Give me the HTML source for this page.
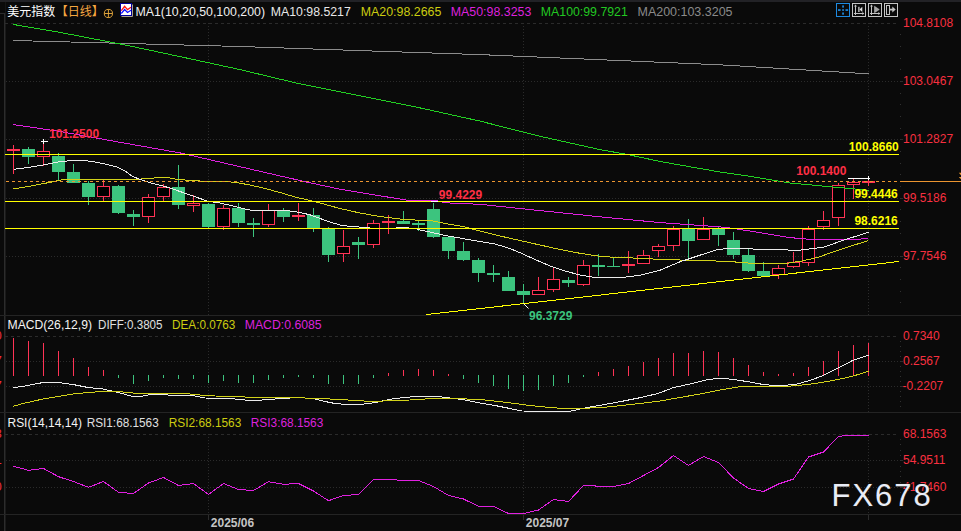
<!DOCTYPE html>
<html><head><meta charset="utf-8"><title>chart</title><style>html,body{margin:0;padding:0;background:#0a0a0a;overflow:hidden}body{width:961px;height:531px}</style></head><body>
<svg width="961" height="531" viewBox="0 0 961 531" style="display:block;font-family:'Liberation Sans',sans-serif">
<rect x="0" y="0" width="961" height="531" fill="#0a0a0a"/>
<rect x="0" y="0" width="961" height="2" fill="#222226"/>
<g shape-rendering="crispEdges">
<rect x="4" y="13" width="1" height="518" fill="#2c2c2c"/>
<rect x="5" y="13" width="1" height="518" fill="#1a1a1a"/>
<rect x="5" y="2" width="1" height="11" fill="#151515"/>
<rect x="0" y="13" width="5" height="1" fill="#2c2c2c"/>
<rect x="0" y="315" width="961" height="1" fill="#242424"/>
<rect x="0" y="412" width="961" height="1" fill="#242424"/>
<rect x="0" y="514" width="961" height="1" fill="#242424"/>
<line x1="5" x2="897" y1="23.5" y2="23.5" stroke="#2b2b2b" stroke-width="1" stroke-dasharray="3 3"/>
<line x1="5" x2="897" y1="336.5" y2="336.5" stroke="#2b2b2b" stroke-width="1" stroke-dasharray="3 3"/>
<line x1="5" x2="897" y1="434.5" y2="434.5" stroke="#2b2b2b" stroke-width="1" stroke-dasharray="3 3"/>
<line x1="6" x2="903" y1="81.5" y2="81.5" stroke="#2b2b2b" stroke-width="1" stroke-dasharray="1 2"/>
<line x1="6" x2="903" y1="139.5" y2="139.5" stroke="#2b2b2b" stroke-width="1" stroke-dasharray="1 2"/>
<line x1="6" x2="903" y1="198.5" y2="198.5" stroke="#2b2b2b" stroke-width="1" stroke-dasharray="1 2"/>
<line x1="6" x2="903" y1="256.5" y2="256.5" stroke="#2b2b2b" stroke-width="1" stroke-dasharray="1 2"/>
<line x1="6" x2="903" y1="361.5" y2="361.5" stroke="#2b2b2b" stroke-width="1" stroke-dasharray="1 2"/>
<line x1="6" x2="903" y1="386.5" y2="386.5" stroke="#2b2b2b" stroke-width="1" stroke-dasharray="1 2"/>
<line x1="6" x2="903" y1="460.5" y2="460.5" stroke="#2b2b2b" stroke-width="1" stroke-dasharray="1 2"/>
<line x1="6" x2="903" y1="487.5" y2="487.5" stroke="#2b2b2b" stroke-width="1" stroke-dasharray="1 2"/>
<rect x="900" y="81" width="3" height="1" fill="#2b2b2b"/>
<rect x="900" y="139" width="3" height="1" fill="#2b2b2b"/>
<rect x="900" y="198" width="3" height="1" fill="#2b2b2b"/>
<rect x="900" y="256" width="3" height="1" fill="#2b2b2b"/>
<rect x="900" y="361" width="3" height="1" fill="#2b2b2b"/>
<rect x="900" y="386" width="3" height="1" fill="#2b2b2b"/>
<rect x="900" y="460" width="3" height="1" fill="#2b2b2b"/>
<rect x="900" y="487" width="3" height="1" fill="#2b2b2b"/>
<line x1="208.5" x2="208.5" y1="23" y2="315" stroke="#2b2b2b" stroke-width="1" stroke-dasharray="1 2"/>
<line x1="208.5" x2="208.5" y1="336" y2="412" stroke="#2b2b2b" stroke-width="1" stroke-dasharray="1 2"/>
<line x1="208.5" x2="208.5" y1="434" y2="514" stroke="#2b2b2b" stroke-width="1" stroke-dasharray="1 2"/>
<rect x="208" y="515" width="1" height="5" fill="#2c2c2c"/>
<line x1="523.5" x2="523.5" y1="23" y2="315" stroke="#2b2b2b" stroke-width="1" stroke-dasharray="1 2"/>
<line x1="523.5" x2="523.5" y1="336" y2="412" stroke="#2b2b2b" stroke-width="1" stroke-dasharray="1 2"/>
<line x1="523.5" x2="523.5" y1="434" y2="514" stroke="#2b2b2b" stroke-width="1" stroke-dasharray="1 2"/>
<rect x="523" y="515" width="1" height="5" fill="#2c2c2c"/>
<line x1="868.5" x2="868.5" y1="23" y2="315" stroke="#2b2b2b" stroke-width="1" stroke-dasharray="1 2"/>
<line x1="868.5" x2="868.5" y1="336" y2="412" stroke="#2b2b2b" stroke-width="1" stroke-dasharray="1 2"/>
<line x1="868.5" x2="868.5" y1="434" y2="514" stroke="#2b2b2b" stroke-width="1" stroke-dasharray="1 2"/>
<rect x="868" y="515" width="1" height="5" fill="#2c2c2c"/>
<rect x="900" y="34" width="1" height="1" fill="#303030"/>
<rect x="900" y="46" width="1" height="1" fill="#303030"/>
<rect x="900" y="58" width="1" height="1" fill="#303030"/>
<rect x="900" y="69" width="1" height="1" fill="#303030"/>
<rect x="900" y="81" width="1" height="1" fill="#303030"/>
<rect x="900" y="93" width="1" height="1" fill="#303030"/>
<rect x="900" y="104" width="1" height="1" fill="#303030"/>
<rect x="900" y="116" width="1" height="1" fill="#303030"/>
<rect x="900" y="128" width="1" height="1" fill="#303030"/>
<rect x="900" y="139" width="1" height="1" fill="#303030"/>
<rect x="900" y="151" width="1" height="1" fill="#303030"/>
<rect x="900" y="163" width="1" height="1" fill="#303030"/>
<rect x="900" y="174" width="1" height="1" fill="#303030"/>
<rect x="900" y="186" width="1" height="1" fill="#303030"/>
<rect x="900" y="198" width="1" height="1" fill="#303030"/>
<rect x="900" y="209" width="1" height="1" fill="#303030"/>
<rect x="900" y="221" width="1" height="1" fill="#303030"/>
<rect x="900" y="233" width="1" height="1" fill="#303030"/>
<rect x="900" y="244" width="1" height="1" fill="#303030"/>
<rect x="900" y="256" width="1" height="1" fill="#303030"/>
<rect x="900" y="267" width="1" height="1" fill="#303030"/>
<rect x="900" y="279" width="1" height="1" fill="#303030"/>
<rect x="900" y="291" width="1" height="1" fill="#303030"/>
<rect x="900" y="302" width="1" height="1" fill="#303030"/>
<rect x="900" y="341" width="1" height="1" fill="#303030"/>
<rect x="900" y="346" width="1" height="1" fill="#303030"/>
<rect x="900" y="351" width="1" height="1" fill="#303030"/>
<rect x="900" y="356" width="1" height="1" fill="#303030"/>
<rect x="900" y="361" width="1" height="1" fill="#303030"/>
<rect x="900" y="366" width="1" height="1" fill="#303030"/>
<rect x="900" y="371" width="1" height="1" fill="#303030"/>
<rect x="900" y="376" width="1" height="1" fill="#303030"/>
<rect x="900" y="381" width="1" height="1" fill="#303030"/>
<rect x="900" y="386" width="1" height="1" fill="#303030"/>
<rect x="900" y="391" width="1" height="1" fill="#303030"/>
<rect x="900" y="396" width="1" height="1" fill="#303030"/>
<rect x="900" y="401" width="1" height="1" fill="#303030"/>
<rect x="900" y="406" width="1" height="1" fill="#303030"/>
<rect x="900" y="439" width="1" height="1" fill="#303030"/>
<rect x="900" y="444" width="1" height="1" fill="#303030"/>
<rect x="900" y="450" width="1" height="1" fill="#303030"/>
<rect x="900" y="455" width="1" height="1" fill="#303030"/>
<rect x="900" y="460" width="1" height="1" fill="#303030"/>
<rect x="900" y="466" width="1" height="1" fill="#303030"/>
<rect x="900" y="471" width="1" height="1" fill="#303030"/>
<rect x="900" y="476" width="1" height="1" fill="#303030"/>
<rect x="900" y="482" width="1" height="1" fill="#303030"/>
<rect x="900" y="487" width="1" height="1" fill="#303030"/>
<rect x="900" y="492" width="1" height="1" fill="#303030"/>
<rect x="900" y="498" width="1" height="1" fill="#303030"/>
<rect x="900" y="503" width="1" height="1" fill="#303030"/>
<rect x="900" y="508" width="1" height="1" fill="#303030"/>
</g>
<g shape-rendering="crispEdges">
<rect x="13" y="145" width="1" height="29" fill="#ff3355"/>
<rect x="7" y="149" width="13" height="2" fill="#ff3355"/>
<rect x="28" y="147" width="1" height="17" fill="#3cc47e"/>
<rect x="22" y="149" width="13" height="8" fill="#3cc47e"/>
<rect x="43" y="143" width="1" height="23" fill="#ff3355"/>
<rect x="37.5" y="151.5" width="12" height="5" fill="#000" stroke="#ff3355" stroke-width="1"/>
<rect x="58" y="153" width="1" height="27" fill="#3cc47e"/>
<rect x="52" y="156" width="13" height="16" fill="#3cc47e"/>
<rect x="73" y="164" width="1" height="19" fill="#3cc47e"/>
<rect x="67" y="172" width="13" height="11" fill="#3cc47e"/>
<rect x="88" y="181" width="1" height="24" fill="#3cc47e"/>
<rect x="82" y="183" width="13" height="14" fill="#3cc47e"/>
<rect x="103" y="179" width="1" height="22" fill="#ff3355"/>
<rect x="97.5" y="186.5" width="12" height="10" fill="#000" stroke="#ff3355" stroke-width="1"/>
<rect x="118" y="185" width="1" height="29" fill="#3cc47e"/>
<rect x="112" y="186" width="13" height="27" fill="#3cc47e"/>
<rect x="133" y="210" width="1" height="16" fill="#3cc47e"/>
<rect x="127" y="214" width="13" height="3" fill="#3cc47e"/>
<rect x="148" y="194" width="1" height="29" fill="#ff3355"/>
<rect x="142.5" y="197.5" width="12" height="19" fill="#000" stroke="#ff3355" stroke-width="1"/>
<rect x="163" y="184" width="1" height="17" fill="#ff3355"/>
<rect x="157.5" y="187.5" width="12" height="9" fill="#000" stroke="#ff3355" stroke-width="1"/>
<rect x="178" y="165" width="1" height="44" fill="#3cc47e"/>
<rect x="172" y="187" width="13" height="18" fill="#3cc47e"/>
<rect x="193" y="195" width="1" height="17" fill="#ff3355"/>
<rect x="187.5" y="203.5" width="12" height="2" fill="#000" stroke="#ff3355" stroke-width="1"/>
<rect x="208" y="203" width="1" height="25" fill="#3cc47e"/>
<rect x="202" y="204" width="13" height="23" fill="#3cc47e"/>
<rect x="223" y="205" width="1" height="25" fill="#ff3355"/>
<rect x="217.5" y="208.5" width="12" height="18" fill="#000" stroke="#ff3355" stroke-width="1"/>
<rect x="238" y="203" width="1" height="24" fill="#3cc47e"/>
<rect x="232" y="208" width="13" height="15" fill="#3cc47e"/>
<rect x="253" y="218" width="1" height="19" fill="#3cc47e"/>
<rect x="247" y="223" width="13" height="2" fill="#3cc47e"/>
<rect x="268" y="204" width="1" height="23" fill="#ff3355"/>
<rect x="262.5" y="210.5" width="12" height="14" fill="#000" stroke="#ff3355" stroke-width="1"/>
<rect x="283" y="208" width="1" height="14" fill="#3cc47e"/>
<rect x="277" y="211" width="13" height="6" fill="#3cc47e"/>
<rect x="298" y="203" width="1" height="18" fill="#ff3355"/>
<rect x="292" y="215" width="13" height="2" fill="#ff3355"/>
<rect x="313" y="208" width="1" height="24" fill="#3cc47e"/>
<rect x="307" y="215" width="13" height="13" fill="#3cc47e"/>
<rect x="328" y="227" width="1" height="35" fill="#3cc47e"/>
<rect x="322" y="229" width="13" height="26" fill="#3cc47e"/>
<rect x="343" y="230" width="1" height="32" fill="#ff3355"/>
<rect x="337.5" y="246.5" width="12" height="7" fill="#000" stroke="#ff3355" stroke-width="1"/>
<rect x="358" y="237" width="1" height="22" fill="#3cc47e"/>
<rect x="352" y="242" width="13" height="3" fill="#3cc47e"/>
<rect x="373" y="220" width="1" height="28" fill="#ff3355"/>
<rect x="367.5" y="223.5" width="12" height="21" fill="#000" stroke="#ff3355" stroke-width="1"/>
<rect x="388" y="215" width="1" height="19" fill="#ff3355"/>
<rect x="382" y="221" width="13" height="2" fill="#ff3355"/>
<rect x="403" y="211" width="1" height="13" fill="#3cc47e"/>
<rect x="397" y="221" width="13" height="3" fill="#3cc47e"/>
<rect x="418" y="220" width="1" height="11" fill="#3cc47e"/>
<rect x="412" y="223" width="13" height="2" fill="#3cc47e"/>
<rect x="433" y="203" width="1" height="35" fill="#3cc47e"/>
<rect x="427" y="209" width="13" height="28" fill="#3cc47e"/>
<rect x="448" y="236" width="1" height="23" fill="#3cc47e"/>
<rect x="442" y="237" width="13" height="14" fill="#3cc47e"/>
<rect x="463" y="242" width="1" height="19" fill="#3cc47e"/>
<rect x="457" y="251" width="13" height="9" fill="#3cc47e"/>
<rect x="478" y="258" width="1" height="24" fill="#3cc47e"/>
<rect x="472" y="260" width="13" height="13" fill="#3cc47e"/>
<rect x="493" y="265" width="1" height="17" fill="#3cc47e"/>
<rect x="487" y="273" width="13" height="2" fill="#3cc47e"/>
<rect x="508" y="271" width="1" height="20" fill="#3cc47e"/>
<rect x="502" y="277" width="13" height="14" fill="#3cc47e"/>
<rect x="523" y="284" width="1" height="19" fill="#3cc47e"/>
<rect x="517" y="291" width="13" height="4" fill="#3cc47e"/>
<rect x="538" y="277" width="1" height="18" fill="#ff3355"/>
<rect x="532.5" y="290.5" width="12" height="4" fill="#000" stroke="#ff3355" stroke-width="1"/>
<rect x="553" y="268" width="1" height="24" fill="#ff3355"/>
<rect x="547.5" y="279.5" width="12" height="10" fill="#000" stroke="#ff3355" stroke-width="1"/>
<rect x="568" y="277" width="1" height="10" fill="#3cc47e"/>
<rect x="562" y="280" width="13" height="3" fill="#3cc47e"/>
<rect x="583" y="260" width="1" height="26" fill="#ff3355"/>
<rect x="577.5" y="265.5" width="12" height="19" fill="#000" stroke="#ff3355" stroke-width="1"/>
<rect x="598" y="254" width="1" height="22" fill="#3cc47e"/>
<rect x="592" y="265" width="13" height="2" fill="#3cc47e"/>
<rect x="613" y="257" width="1" height="10" fill="#3cc47e"/>
<rect x="607" y="265.5" width="13" height="1.5" fill="#3cc47e"/>
<rect x="628" y="251" width="1" height="22" fill="#ff3355"/>
<rect x="622" y="264" width="13" height="2" fill="#ff3355"/>
<rect x="643" y="250" width="1" height="14" fill="#ff3355"/>
<rect x="637.5" y="255.5" width="12" height="8" fill="#000" stroke="#ff3355" stroke-width="1"/>
<rect x="658" y="244" width="1" height="13" fill="#ff3355"/>
<rect x="652.5" y="246.5" width="12" height="4" fill="#000" stroke="#ff3355" stroke-width="1"/>
<rect x="673" y="226" width="1" height="25" fill="#ff3355"/>
<rect x="667.5" y="229.5" width="12" height="16" fill="#000" stroke="#ff3355" stroke-width="1"/>
<rect x="688" y="219" width="1" height="40" fill="#3cc47e"/>
<rect x="682" y="229" width="13" height="12" fill="#3cc47e"/>
<rect x="703" y="217" width="1" height="23" fill="#ff3355"/>
<rect x="697.5" y="229.5" width="12" height="10" fill="#000" stroke="#ff3355" stroke-width="1"/>
<rect x="718" y="226" width="1" height="20" fill="#3cc47e"/>
<rect x="712" y="229" width="13" height="6" fill="#3cc47e"/>
<rect x="733" y="232" width="1" height="27" fill="#3cc47e"/>
<rect x="727" y="240" width="13" height="15" fill="#3cc47e"/>
<rect x="748" y="249" width="1" height="23" fill="#3cc47e"/>
<rect x="742" y="255" width="13" height="16" fill="#3cc47e"/>
<rect x="763" y="262" width="1" height="14" fill="#3cc47e"/>
<rect x="757" y="271" width="13" height="5" fill="#3cc47e"/>
<rect x="778" y="265" width="1" height="14" fill="#ff3355"/>
<rect x="772.5" y="268.5" width="12" height="6" fill="#000" stroke="#ff3355" stroke-width="1"/>
<rect x="793" y="252" width="1" height="16" fill="#ff3355"/>
<rect x="787.5" y="262.5" width="12" height="4" fill="#000" stroke="#ff3355" stroke-width="1"/>
<rect x="808" y="226" width="1" height="40" fill="#ff3355"/>
<rect x="802.5" y="229.0" width="12" height="33.5" fill="#000" stroke="#ff3355" stroke-width="1"/>
<rect x="823" y="211" width="1" height="19" fill="#ff3355"/>
<rect x="817.5" y="220.5" width="12" height="6" fill="#000" stroke="#ff3355" stroke-width="1"/>
<rect x="838" y="183" width="1" height="43" fill="#ff3355"/>
<rect x="832.5" y="185.5" width="12" height="32" fill="#000" stroke="#ff3355" stroke-width="1"/>
<rect x="853" y="179" width="1" height="20" fill="#ff3355"/>
<rect x="847.5" y="182.5" width="12" height="2" fill="#000" stroke="#ff3355" stroke-width="1"/>
<rect x="868" y="176" width="1" height="10" fill="#ff3355"/>
<rect x="862" y="181" width="13" height="2" fill="#ff3355"/>
</g>
<polyline points="13,40.5 120,43.3 240,46.5 360,50.6 480,54.6 720,64.8 868.5,73.8" fill="none" stroke="#8c8c8c" stroke-width="1" shape-rendering="crispEdges" />
<polyline points="13,24.4 60,32.4 120,43.9 180,56.6 240,69.6 300,83.9 360,95.8 420,107.9 480,121.1 540,136.3 600,149.6 628,154.6 660,161.5 720,172 750,176.3 790,183 832,186.9 857,189.2 868.5,190.7" fill="none" stroke="#22d022" stroke-width="1" shape-rendering="crispEdges" />
<polyline points="13,124.5 60,131.5 120,142.3 180,152.9 195,156.3 240,166.7 310,182.8 340,189.2 410,200.7 437,200.7 441,201.8 445,202.8 480,204.3 540,210.6 600,216.8 660,222.6 720,226.9 730,228 750,231 790,237.6 816.7,240 850,239.6 868.5,238.6" fill="none" stroke="#e020e0" stroke-width="1" shape-rendering="crispEdges" />
<polyline points="13.5,189 28,186.5 43,183.7 55,181.3 63,179.5 70,179 85,179 100,179.5 118,179.5 133,179.3 150,178.7 157,177.5 167,177.5 175,179 185,180 200,181 225,181.5 235,182.3 250,185 265,188.5 280,192.5 295,197 310,200.5 320,203 340,208.5 360,213 380,216.5 400,219 420,220.3 433,221 445,223.5 460,226 465,227 480,231 500,236 520,240.5 540,245 560,249.5 580,253.3 600,256.3 610,257 633,258 667,259.7 710,260.7 733,261.8 760,264 785.8,263.5 801.7,261 816.7,257.7 843.3,248.5 868.5,240.5" fill="none" stroke="#d2d21a" stroke-width="1" shape-rendering="crispEdges" />
<polyline points="13.5,169.3 28,167.5 43,165 58,162 72,160.5 80,160.5 92,161.3 105,164 118,167.3 125,171 133,176.7 142,180 150,182.7 160,185.2 170,188 180,191.5 190,195 200,198.5 207,201 220,203 235,206.5 245,209 253,210.5 262,210.5 275,210 290,211 300,212.5 310,214.8 320,218.5 330,222 342,225.5 355,226.8 368,227.5 372,228.5 395,228.5 398,227.5 407,227.5 410,228.5 416,228.7 420,230 433,232.7 445,235.5 460,238 465,239 480,241.5 495,244 510,248.5 523,254 535,259.5 550,266 565,271 580,275 595,277.5 610,278 620,277.7 640,275.2 660,270.2 680,261.8 700,255.2 716.7,249.7 727,248.5 750,248.5 756.7,249.7 785.8,249.8 795,250.7 816.7,248 825,246.8 843.3,240.2 868.5,232.3" fill="none" stroke="#ececec" stroke-width="1" shape-rendering="crispEdges" />
<g shape-rendering="crispEdges">
<rect x="5" y="154" width="894" height="1" fill="#ffff00"/>
<rect x="5" y="201" width="894" height="1" fill="#ffff00"/>
<rect x="5" y="228" width="894" height="1" fill="#ffff00"/>
<line x1="6" x2="900" y1="181.5" y2="181.5" stroke="#ec9530" stroke-width="1" stroke-dasharray="3 3"/>
<rect x="900" y="181" width="61" height="1" fill="#ec9530"/>
</g>
<path d="M958.8,172.8 H961 V175.2z M958.8,177 H961 V179.3z" fill="#e89430"/>
<polyline points="426,314.6 899,261.5" fill="none" stroke="#ffff00" stroke-width="1" shape-rendering="crispEdges" />
<g shape-rendering="crispEdges" fill="#fff">
<rect x="41" y="141" width="7" height="1"/><rect x="43" y="139" width="1" height="5"/>
<rect x="431" y="201" width="7" height="1"/>
<rect x="848" y="178" width="22" height="1"/><rect x="868" y="176" width="1" height="4"/>
</g>
<line x1="523.5" y1="303.5" x2="528.5" y2="308.5" stroke="#fff" stroke-width="1"/>
<g shape-rendering="crispEdges">
<rect x="13" y="338" width="1" height="38" fill="#ff3355"/>
<rect x="28" y="341" width="1" height="35" fill="#ff3355"/>
<rect x="43" y="343" width="1" height="33" fill="#ff3355"/>
<rect x="58" y="351" width="1" height="25" fill="#ff3355"/>
<rect x="73" y="358" width="1" height="18" fill="#ff3355"/>
<rect x="88" y="367" width="1" height="9" fill="#ff3355"/>
<rect x="103" y="370" width="1" height="6" fill="#ff3355"/>
<rect x="118" y="375" width="1" height="3" fill="#3cc47e"/>
<rect x="133" y="375" width="1" height="9" fill="#3cc47e"/>
<rect x="148" y="375" width="1" height="6" fill="#3cc47e"/>
<rect x="163" y="375" width="1" height="3" fill="#3cc47e"/>
<rect x="178" y="375" width="1" height="4" fill="#3cc47e"/>
<rect x="193" y="375" width="1" height="4" fill="#3cc47e"/>
<rect x="208" y="375" width="1" height="8" fill="#3cc47e"/>
<rect x="223" y="375" width="1" height="6" fill="#3cc47e"/>
<rect x="238" y="375" width="1" height="8" fill="#3cc47e"/>
<rect x="253" y="375" width="1" height="8" fill="#3cc47e"/>
<rect x="268" y="375" width="1" height="5" fill="#3cc47e"/>
<rect x="283" y="375" width="1" height="3" fill="#3cc47e"/>
<rect x="298" y="375" width="1" height="2" fill="#3cc47e"/>
<rect x="313" y="375" width="1" height="3" fill="#3cc47e"/>
<rect x="328" y="375" width="1" height="9" fill="#3cc47e"/>
<rect x="343" y="375" width="1" height="9" fill="#3cc47e"/>
<rect x="358" y="375" width="1" height="9" fill="#3cc47e"/>
<rect x="373" y="375" width="1" height="3" fill="#3cc47e"/>
<rect x="388" y="373" width="1" height="3" fill="#ff3355"/>
<rect x="403" y="370" width="1" height="6" fill="#ff3355"/>
<rect x="418" y="369" width="1" height="7" fill="#ff3355"/>
<rect x="433" y="370" width="1" height="6" fill="#ff3355"/>
<rect x="448" y="374" width="1" height="2" fill="#ff3355"/>
<rect x="463" y="375" width="1" height="4" fill="#3cc47e"/>
<rect x="478" y="375" width="1" height="8" fill="#3cc47e"/>
<rect x="493" y="375" width="1" height="11" fill="#3cc47e"/>
<rect x="508" y="375" width="1" height="14" fill="#3cc47e"/>
<rect x="523" y="375" width="1" height="16" fill="#3cc47e"/>
<rect x="538" y="375" width="1" height="15" fill="#3cc47e"/>
<rect x="553" y="375" width="1" height="11" fill="#3cc47e"/>
<rect x="568" y="375" width="1" height="8" fill="#3cc47e"/>
<rect x="583" y="375" width="1" height="2" fill="#3cc47e"/>
<rect x="598" y="372" width="1" height="4" fill="#ff3355"/>
<rect x="613" y="369" width="1" height="7" fill="#ff3355"/>
<rect x="628" y="366" width="1" height="10" fill="#ff3355"/>
<rect x="643" y="362" width="1" height="14" fill="#ff3355"/>
<rect x="658" y="358" width="1" height="18" fill="#ff3355"/>
<rect x="673" y="353" width="1" height="23" fill="#ff3355"/>
<rect x="688" y="353" width="1" height="23" fill="#ff3355"/>
<rect x="703" y="351" width="1" height="25" fill="#ff3355"/>
<rect x="718" y="352" width="1" height="24" fill="#ff3355"/>
<rect x="733" y="358" width="1" height="18" fill="#ff3355"/>
<rect x="748" y="365" width="1" height="11" fill="#ff3355"/>
<rect x="763" y="372" width="1" height="4" fill="#ff3355"/>
<rect x="778" y="374" width="1" height="2" fill="#ff3355"/>
<rect x="793" y="373" width="1" height="3" fill="#ff3355"/>
<rect x="808" y="367" width="1" height="9" fill="#ff3355"/>
<rect x="823" y="361" width="1" height="15" fill="#ff3355"/>
<rect x="838" y="351" width="1" height="25" fill="#ff3355"/>
<rect x="853" y="345" width="1" height="31" fill="#ff3355"/>
<rect x="868" y="343" width="1" height="33" fill="#ff3355"/>
</g>
<polyline points="13.5,387.7 28,385.5 43,382.5 58,382.5 73,384.5 88,387.5 103,389 118,392.5 133,396.5 140,396.5 148,395 160,394 170,395.3 195,396 205,398 230,398.5 245,400 262,400 275,399 290,398 300,397.5 315,399 325,401.5 335,403.5 345,404.3 360,404.3 370,403.5 380,401.5 390,399.3 400,398 412,396.8 440,396.8 450,398 465,400 480,403 495,405.5 510,408.5 522,411 570,411.3 580,409 590,407 600,405.3 620,401.7 640,397.7 658,393.5 673,387.7 690,384 708,379.5 718,378.5 725,378.5 735,379.7 750,382 762,384.3 772,385.3 785,385.3 797,384 810,380.5 823,375.5 838,368 853,360.3 868.5,355.3" fill="none" stroke="#ececec" stroke-width="1" shape-rendering="crispEdges" />
<polyline points="13,406.3 23,403.5 43,399 58,396.5 73,394 88,392.5 103,391.5 118,391.5 133,393 148,393.5 185,393.5 200,395 215,396 230,396.3 245,397 260,397.5 290,397.5 305,398 320,398.5 340,399.5 355,400.5 370,401.3 380,401.3 390,400.3 410,400 425,399 440,398.5 460,398.5 470,399.2 485,400 500,401.7 515,403.5 530,405.5 545,407 560,408.3 575,408.5 590,408 600,407.7 620,405.7 640,403.5 660,401 680,397.5 700,394 720,390 735,387.5 745,386 760,386 785,386.5 800,385.2 815,383.5 830,381 845,378 855,375.5 868.5,371.3" fill="none" stroke="#d2d21a" stroke-width="1" shape-rendering="crispEdges" />
<polyline points="13.5,466.3 28.5,470.3 43.5,468.5 58.5,476.7 73.5,481.5 88.5,487.3 103.5,481.5 118.5,492.3 133.5,493.5 148.5,483 163.5,477.5 178.5,485.5 193.5,483.5 208.5,494.5 223.5,483.5 238.5,489.5 253.5,490.5 268.5,481.7 283.5,484.3 298.5,483.5 313.5,491 328.5,500.7 343.5,495.5 358.5,494.5 373.5,479.5 395.5,479.5 398.5,480.5 418.5,480.5 433.5,486.5 448.5,495.5 463.5,499 478.5,506.3 493.5,506.3 508.5,513.5 523.5,513.5 538.5,510 553.5,499.5 568.5,501.5 583.5,485.5 592.5,485.5 598.5,486.5 613.5,486.5 628.5,483.5 643.5,475.5 658.5,467.5 673.5,455.5 688.5,465.5 703.5,456.5 718.5,462.5 733.5,478 748.5,488.5 763.5,491.5 778.5,484 793.5,479 808.5,457 823.5,452 838.5,436.5 846.5,435.5 868.5,435.5" fill="none" stroke="#e020e0" stroke-width="1" shape-rendering="crispEdges" />
<text x="7.3" y="16" fill="#ffffff" font-size="12" style="font-family:'Liberation Sans','Noto Sans CJK SC',sans-serif">美元指数</text>
<text x="55.8" y="16" fill="#f4a640" font-size="12" style="font-family:'Liberation Sans','Noto Sans CJK SC',sans-serif">【日线】</text>
<g stroke="#f0b040" stroke-width="0.9" fill="none"><circle cx="108.4" cy="13.5" r="4.1"/><line x1="104.3" x2="112.5" y1="13.5" y2="13.5"/><line x1="108.4" x2="108.4" y1="9.4" y2="17.6"/></g>
<path d="M132.5,4.5 V16.5 H121.5" fill="none" stroke="#a8a090" stroke-width="1"/>
<rect x="120.5" y="3.5" width="11" height="12" fill="#fff" stroke="#000098" stroke-width="1"/>
<polyline points="121.3,10.6 124.6,6.3 127.5,9.6 131,7.3" fill="none" stroke="#ff1010" stroke-width="1.2"/>
<polyline points="121.3,13.5 124.6,9.5 127.5,12.5 131,10.2" fill="none" stroke="#1010ff" stroke-width="1.2"/>
<text x="135.5" y="16" fill="#f0f0f0" font-size="12" textLength="129.5" lengthAdjust="spacingAndGlyphs" >MA1(10,20,50,100,200)</text>
<text x="270.8" y="16" fill="#e8e8e8" font-size="12" textLength="80" lengthAdjust="spacingAndGlyphs" >MA10:98.5217</text>
<text x="360.8" y="16" fill="#cccc10" font-size="12" textLength="80.5" lengthAdjust="spacingAndGlyphs" >MA20:98.2665</text>
<text x="450.8" y="16" fill="#dd22dd" font-size="12" textLength="80.5" lengthAdjust="spacingAndGlyphs" >MA50:98.3253</text>
<text x="540.8" y="16" fill="#22c822" font-size="12" textLength="87" lengthAdjust="spacingAndGlyphs" >MA100:99.7921</text>
<text x="637.5" y="16" fill="#8a8a8a" font-size="12" textLength="95" lengthAdjust="spacingAndGlyphs" >MA200:103.3205</text>
<text x="7.5" y="329" fill="#f4f4f4" font-size="12" textLength="84.5" lengthAdjust="spacingAndGlyphs" >MACD(26,12,9)</text>
<text x="98" y="329" fill="#e0e0e0" font-size="12" textLength="64.5" lengthAdjust="spacingAndGlyphs" >DIFF:0.3805</text>
<text x="172" y="329" fill="#cccc10" font-size="12" textLength="63.3" lengthAdjust="spacingAndGlyphs" >DEA:0.0763</text>
<text x="244.7" y="329" fill="#dd22dd" font-size="12" textLength="77" lengthAdjust="spacingAndGlyphs" >MACD:0.6085</text>
<text x="7.5" y="427.3" fill="#f4f4f4" font-size="12" textLength="74.5" lengthAdjust="spacingAndGlyphs" >RSI(14,14,14)</text>
<text x="86.7" y="427.3" fill="#e0e0e0" font-size="12" textLength="72" lengthAdjust="spacingAndGlyphs" >RSI1:68.1563</text>
<text x="168.7" y="427.3" fill="#cccc10" font-size="12" textLength="72.6" lengthAdjust="spacingAndGlyphs" >RSI2:68.1563</text>
<text x="250.8" y="427.3" fill="#dd22dd" font-size="12" textLength="72.5" lengthAdjust="spacingAndGlyphs" >RSI3:68.1563</text>
<text x="903" y="26.8" fill="#f83040" font-size="12" >104.8108</text>
<text x="903" y="84.8" fill="#f83040" font-size="12" >103.0467</text>
<text x="903" y="142.8" fill="#f83040" font-size="12" >101.2827</text>
<text x="903" y="201.8" fill="#f83040" font-size="12" >99.5186</text>
<text x="903" y="259.8" fill="#f83040" font-size="12" >97.7546</text>
<text x="903" y="339.8" fill="#f83040" font-size="12" >0.7340</text>
<text x="903" y="364.8" fill="#f83040" font-size="12" >0.2567</text>
<text x="903" y="437.7" fill="#f83040" font-size="12" >68.1563</text>
<text x="903" y="463.6" fill="#f83040" font-size="12" >54.9511</text>
<text x="903" y="490.7" fill="#f83040" font-size="12" >41.7460</text>
<text x="902.6" y="389.8" fill="#f83040" font-size="12" >-0.2207</text>
<text x="1.7" y="340" fill="#f83040" font-size="12" text-anchor="end">0.7340</text>
<text x="1.7" y="365" fill="#f83040" font-size="12" text-anchor="end">0.2567</text>
<text x="1.7" y="390" fill="#f83040" font-size="12" text-anchor="end">-0.2207</text>
<text x="1.7" y="438" fill="#f83040" font-size="12" text-anchor="end">68.1563</text>
<text x="1.7" y="464" fill="#f83040" font-size="12" text-anchor="end">54.9511</text>
<text x="1.7" y="491" fill="#f83040" font-size="12" text-anchor="end">41.7460</text>
<text x="49" y="138" fill="#ff2f45" font-size="12" font-weight="bold" >101.2500</text>
<text x="796.3" y="175" fill="#ff2f45" font-size="12" font-weight="bold" >100.1400</text>
<text x="438.8" y="199" fill="#ff2f45" font-size="12" font-weight="bold" >99.4229</text>
<text x="848.7" y="151" fill="#ffff00" font-size="12" font-weight="bold" >100.8660</text>
<text x="854.4" y="198.3" fill="#ffff00" font-size="12" font-weight="bold" >99.4446</text>
<text x="854.4" y="224.7" fill="#ffff00" font-size="12" font-weight="bold" >98.6216</text>
<text x="529" y="320" fill="#3cc47e" font-size="12" font-weight="bold" >96.3729</text>
<text x="210.8" y="526.7" fill="#c4c4c4" font-size="12" font-weight="bold" >2025/06</text>
<text x="525.8" y="526.7" fill="#c4c4c4" font-size="12" font-weight="bold" >2025/07</text>
<rect x="836.5" y="3.5" width="13" height="13" fill="#0a0a0a" stroke="#1e8ae0" stroke-width="1"/>
<g fill="#1e8ae0"><rect x="842.2" y="5.4" width="1.7" height="2.2"/><rect x="842.2" y="12.5" width="1.7" height="2.2"/><rect x="842.2" y="9.2" width="1.7" height="1.7"/><rect x="838" y="9.2" width="2.6" height="1.7"/><rect x="845.5" y="9.2" width="2.6" height="1.7"/></g>
<rect x="852.5" y="3.5" width="13" height="13" fill="#0a0a0a" stroke="#c4c4c4" stroke-width="1"/>
<g stroke="#c4c4c4" stroke-width="1" fill="#c4c4c4"><line x1="855.5" y1="5" x2="855.5" y2="15"/><line x1="854" y1="13.5" x2="864" y2="13.5"/><path d="M855.5,4.5 l-1.5,2 h3z M864.3,13.5 l-2,-1.5 v3z M854,13.5 l2,-1.5 v3z" stroke="none"/></g>
<rect x="868.5" y="3.5" width="13" height="13" fill="#0a0a0a" stroke="#c4c4c4" stroke-width="1"/>
<g stroke="#c4c4c4" stroke-width="1" fill="#c4c4c4"><line x1="871.5" y1="5" x2="871.5" y2="15"/><line x1="870" y1="13.5" x2="880" y2="13.5"/><path d="M871.5,4.5 l-1.5,2 h3z M880.3,13.5 l-2,-1.5 v3z M870,13.5 l2,-1.5 v3z" stroke="none"/></g>
<g fill="#e0e0e0"><rect x="858.3" y="6.8" width="1.2" height="5.2"/><path d="M862.3,6.8 v5.2 l-2.8,-2.6z"/></g>
<path d="M874.5,6.3 v6.4 l4.8,-3.2z" fill="#a4a4a4" stroke="#c8c8c8" stroke-width="0.5"/>
<rect x="884.5" y="3.5" width="13" height="13" fill="#0a0a0a" stroke="#c4c4c4" stroke-width="1"/>
<g fill="none" stroke="#c4c4c4" stroke-width="1"><rect x="886.5" y="5.5" width="3" height="9"/></g><rect x="889" y="8.7" width="4" height="1.8" fill="#c4c4c4"/><path d="M892.3,6.6 l3.4,3 l-3.4,3z" fill="#c4c4c4"/>
<text x="831.5" y="506.2" fill="#e9edf7" font-size="31" letter-spacing="2" style="paint-order:stroke" stroke="#1a140c" stroke-width="1.2">FX678</text>
</svg>
</body></html>
